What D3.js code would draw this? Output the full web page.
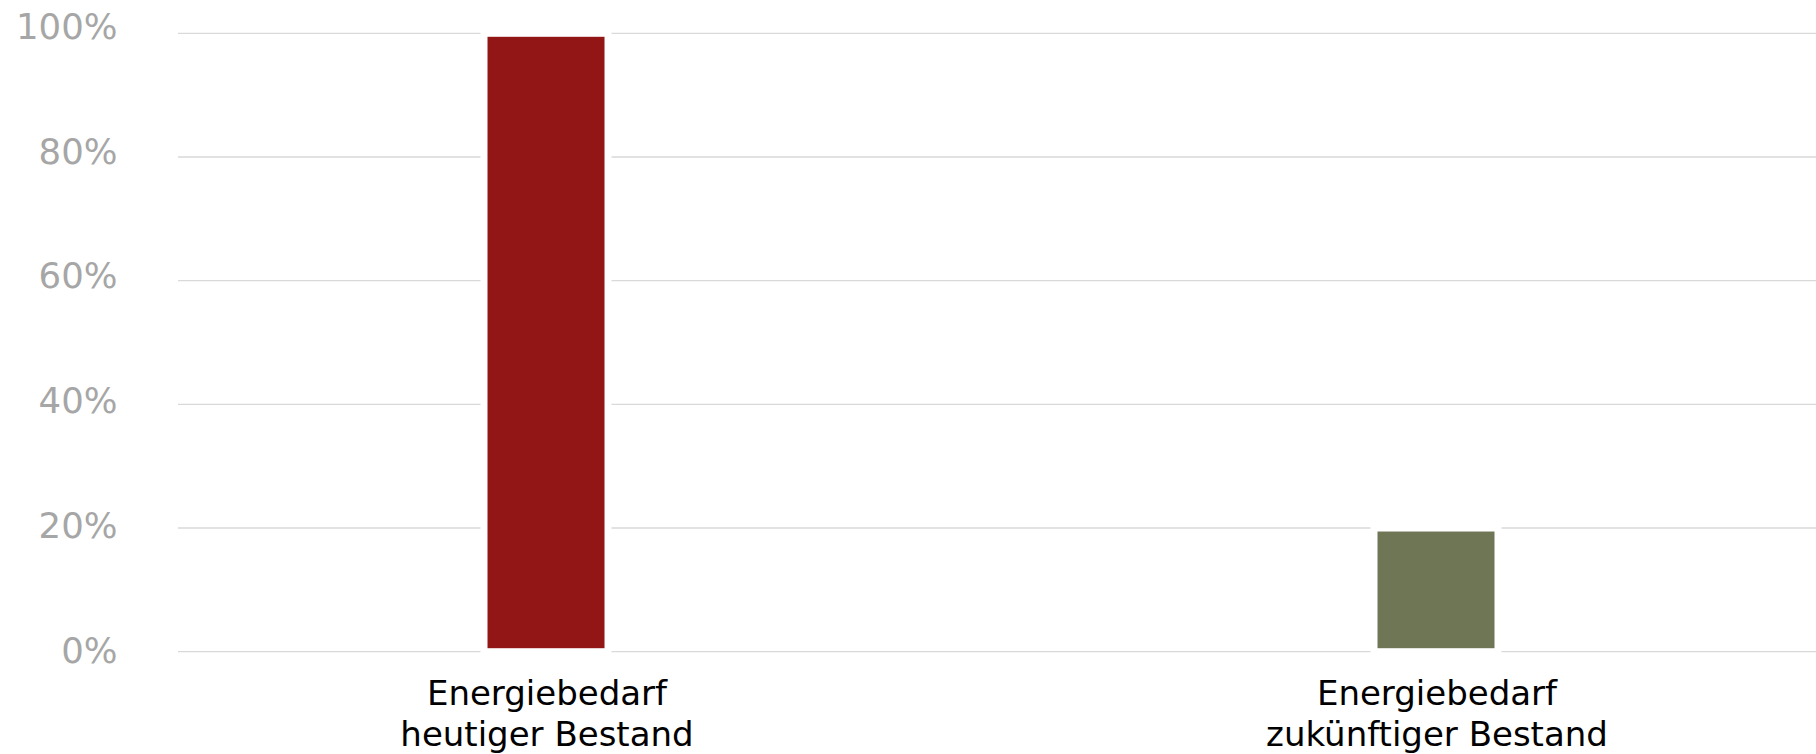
<!DOCTYPE html>
<html>
<head>
<meta charset="utf-8">
<script src="https://cdn.jsdelivr.net/npm/d3@7"></script>
<style>
  html, body { margin: 0; padding: 0; background: #fff; }
  svg { display: block; }
  text { font-family: "DejaVu Sans", Verdana, sans-serif; }
</style>
</head>
<body>
<svg id="chart" width="1816" height="754"></svg>
<script>
const categories = [["Energiebedarf", "heutiger Bestand"], ["Energiebedarf", "zukünftiger Bestand"]];
const categoryKeys = ["heute", "zukunft"];
const values = [100, 20];
const barColors = ["#921615", "#6f7656"];
const yTicks = [0, 20, 40, 60, 80, 100];
const yTickLabels = ["0%", "20%", "40%", "60%", "80%", "100%"];

const svg = d3.select("#chart");
const W = 1816, H = 754;

const y = d3.scaleLinear().domain([0, 100]).range([651.7, 33.3]);
const yLab = d3.scaleLinear().domain([0, 100]).range([649.7, 25.8]);
const x = d3.scalePoint().domain(categoryKeys).range([101, 1881]).padding(0.5);
const barW = 124;
const fs = 34;
const tfs = 35.5;

// gridlines
svg.append("g").selectAll("line").data(yTicks).join("line")
  .attr("x1", 178).attr("x2", W)
  .attr("y1", d => y(d)).attr("y2", d => y(d))
  .attr("stroke", "#d9d9d9").attr("stroke-width", 1.3);

// y tick labels
svg.append("g").selectAll("text").data(yTicks).join("text")
  .attr("x", 117.5)
  .attr("y", d => yLab(d) + 0.364 * tfs)
  .attr("text-anchor", "end")
  .attr("font-size", tfs)
  .attr("fill", "#a6a6a6")
  .text((d, i) => yTickLabels[i]);

// bars
svg.append("g").selectAll("rect").data(values).join("rect")
  .attr("x", (d, i) => x(categoryKeys[i]) - barW / 2)
  .attr("width", barW)
  .attr("y", d => y(d))
  .attr("height", d => y(0) - y(d))
  .attr("fill", (d, i) => barColors[i])
  .attr("stroke", "#ffffff")
  .attr("stroke-width", 7);

// x labels
const xl = svg.append("g").selectAll("text").data(categories).join("text")
  .attr("text-anchor", "middle")
  .attr("font-size", fs)
  .attr("fill", "#000");
xl.each(function(lines, i) {
  const t = d3.select(this);
  lines.forEach((ln, j) => {
    t.append("tspan")
      .attr("x", x(categoryKeys[i]) + 1)
      .attr("y", 705 + j * 40.5)
      .text(ln);
  });
});
</script>
</body>
</html>
